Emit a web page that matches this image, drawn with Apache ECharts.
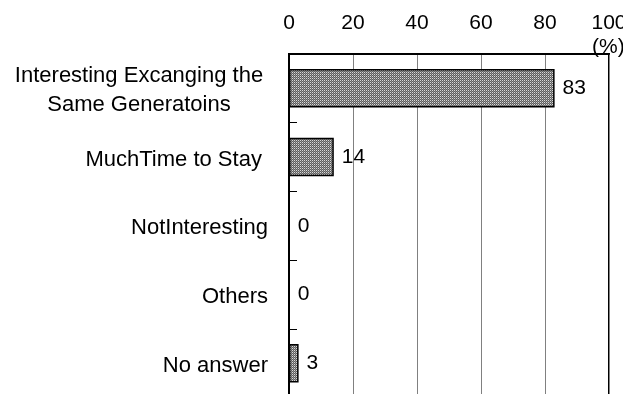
<!DOCTYPE html>
<html>
<head>
<meta charset="utf-8">
<script src="https://cdn.jsdelivr.net/npm/echarts@6/dist/echarts.min.js"></script>
<style>
  html, body { margin: 0; padding: 0; background: #fff; }
  #chart { width: 623px; height: 394px; }
</style>
</head>
<body>
<div id="chart"></div>
<script>
// Survey answers, top to bottom
const categories = [
  'Interesting Excanging the\nSame Generatoins',
  'MuchTime to Stay ',
  'NotInteresting',
  'Others',
  'No answer'
];
const percentages = [83, 14, 0, 0, 3];
const axisTicks = [0, 20, 40, 60, 80, 100];
const unitLabel = '(%)';

const FONT = 'Liberation Sans, Arial, sans-serif';

// Fine dithered grey fill for the bars
function makeDither() {
  const c = document.createElement('canvas');
  c.width = 2; c.height = 2;
  const g = c.getContext('2d');
  g.fillStyle = '#5e5e5e'; g.fillRect(0, 0, 2, 2);
  g.fillStyle = '#d8d8d8'; g.fillRect(0, 0, 1, 1);
  g.fillStyle = '#8e8e8e'; g.fillRect(1, 1, 1, 1);
  return c;
}

const chart = echarts.init(document.getElementById('chart'), null, { renderer: 'canvas' });

chart.setOption({
  animation: false,
  backgroundColor: '#fff',
  grid: {
    left: 289, right: 14, top: 54, height: 343.5,
    outerBoundsMode: 'none',
    containLabel: false,
    show: true, borderColor: '#000', borderWidth: 2, backgroundColor: 'transparent'
  },
  xAxis: {
    type: 'value',
    position: 'top',
    min: axisTicks[0],
    max: axisTicks[axisTicks.length - 1],
    interval: axisTicks[1] - axisTicks[0],
    axisLine: { show: true, lineStyle: { color: '#000', width: 2 } },
    axisTick: { show: false },
    axisLabel: { color: '#000', fontFamily: FONT, fontSize: 21, margin: 20 },
    splitLine: { show: true, lineStyle: { color: '#808080', width: 1 } }
  },
  yAxis: {
    type: 'category',
    inverse: true,
    data: categories,
    axisLine: { show: true, lineStyle: { color: '#000', width: 2 } },
    axisTick: { show: true, inside: true, length: 8, lineStyle: { color: '#000', width: 1 } },
    axisLabel: {
      color: '#000', fontFamily: FONT, fontSize: 22, margin: 21, lineHeight: 29,
      padding: [5, 0, 0, 0],
      formatter: function (v) {
        if (v.indexOf('\n') < 0) return v;
        return v.split('\n').map(function (l) { return '{c|' + l + '}'; }).join('\n');
      },
      rich: {
        c: { width: 258, align: 'center', fontFamily: FONT, fontSize: 22, lineHeight: 29, color: '#000' }
      }
    }
  },
  graphic: [{
    type: 'text',
    left: 592, top: 37,
    style: { text: unitLabel, fill: '#000', font: '21px ' + FONT }
  }],
  series: [{
    type: 'bar',
    data: percentages,
    barWidth: '56%',
    itemStyle: {
      color: { image: makeDither(), repeat: 'repeat' },
      borderColor: '#000',
      borderWidth: 1.5
    },
    label: {
      show: true,
      position: 'right',
      distance: 8,
      color: '#000',
      fontFamily: FONT,
      fontSize: 21
    }
  }]
});
</script>
</body>
</html>
